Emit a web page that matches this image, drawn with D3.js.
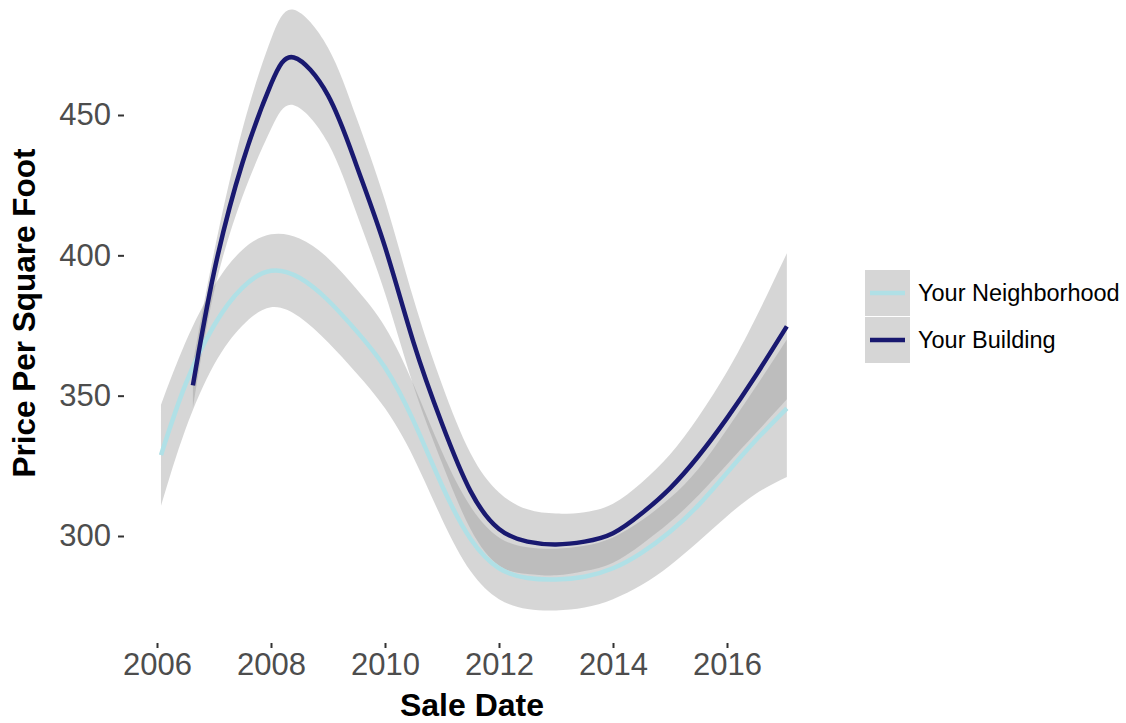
<!DOCTYPE html>
<html>
<head>
<meta charset="utf-8">
<script src="https://cdn.jsdelivr.net/npm/d3@7"></script>
<style>
  html, body { margin: 0; padding: 0; background: #fff; }
  svg { display: block; font-family: "Liberation Sans", Arial, sans-serif; }
</style>
</head>
<body>
<svg id="chart" width="1126" height="723"></svg>
<script>
// Smoothed price trend (loess-style fit with confidence band) per group
const xTicks = [2006, 2008, 2010, 2012, 2014, 2016];
const yTicks = [300, 350, 400, 450];

const seriesNames = ["Your Neighborhood", "Your Building"];
const seriesColors = ["#b0e0e6", "#191970"];

const nbYears = [2006.07, 2006.5, 2007, 2007.5, 2008, 2008.5, 2009, 2009.5, 2010, 2010.5, 2011, 2011.5, 2012, 2012.5, 2013, 2013.5, 2014, 2014.5, 2015, 2015.5, 2016, 2016.5, 2017.05];
const nbMean  = [328.8, 354, 375, 388.5, 394.5, 392, 384, 373, 360, 341, 318, 299, 288.5, 285, 284.5, 285.5, 288.5, 294, 301.5, 311, 322.5, 334, 345.5];
const nbLow   = [310.8, 338, 361, 375, 381.5, 378, 369, 358, 345.5, 328, 306, 287.5, 277.5, 274, 273.5, 274.5, 277.5, 282.5, 289.5, 298, 307, 315, 321];
const nbHigh  = [346.8, 369, 389, 402, 407.5, 406, 399, 388, 374.5, 354, 330, 310.5, 299.5, 296, 295.5, 296.5, 299.5, 305.5, 313.5, 324, 338, 353, 370];

const bdYears = [2006.63, 2007, 2007.5, 2008, 2008.4, 2009, 2009.5, 2010, 2010.5, 2011, 2011.5, 2012, 2012.5, 2013, 2013.5, 2014, 2014.5, 2015, 2015.5, 2016, 2016.5, 2017.05];
const bdMean  = [353.7, 394, 433, 461, 470.5, 457, 432, 403, 369, 340, 316, 302.5, 298, 297, 298, 301, 308, 317, 328.5, 342, 357, 374.7];
const bdLow   = [345.7, 387, 421, 445, 453.5, 440, 415, 386.5, 353.5, 326, 302.5, 289.5, 286.5, 286, 287.5, 290.5, 297, 305, 314.5, 325.5, 336.5, 348.7];
const bdHigh  = [361.7, 401, 445, 477, 487.5, 474, 449, 419.5, 384.5, 354, 329.5, 315.5, 309.5, 308, 308.5, 311.5, 319, 329, 342.5, 358.5, 377.5, 400.7];

const series = [
  { name: seriesNames[0], color: seriesColors[0],
    pts: nbYears.map((t, i) => ({ t, m: nbMean[i], lo: nbLow[i], hi: nbHigh[i] })) },
  { name: seriesNames[1], color: seriesColors[1],
    pts: bdYears.map((t, i) => ({ t, m: bdMean[i], lo: bdLow[i], hi: bdHigh[i] })) }
];

const svg = d3.select("#chart");

const x = d3.scaleLinear().domain([2006, 2016]).range([157, 727]);
const y = d3.scaleLinear().domain([300, 450]).range([536, 115]);

const curve = d3.curveNatural;

// confidence ribbons
const area = d3.area().curve(curve)
  .x(d => x(d.t)).y0(d => y(d.lo)).y1(d => y(d.hi));
svg.append("g").selectAll("path").data(series).join("path")
  .attr("d", s => area(s.pts))
  .attr("fill", "#999999")
  .attr("fill-opacity", 0.4);

// fitted lines
const line = d3.line().curve(curve).x(d => x(d.t)).y(d => y(d.m));
svg.append("g").selectAll("path").data(series).join("path")
  .attr("d", s => line(s.pts))
  .attr("fill", "none")
  .attr("stroke", s => s.color)
  .attr("stroke-width", 4.5);

// axes
const xAxis = svg.append("g")
  .attr("transform", "translate(0,643)")
  .call(d3.axisBottom(x).tickValues(xTicks).tickFormat(d3.format("d")).tickSize(5).tickPadding(5));
const yAxis = svg.append("g")
  .attr("transform", "translate(124,0)")
  .call(d3.axisLeft(y).tickValues(yTicks).tickSize(6).tickPadding(7));

[xAxis, yAxis].forEach(g => {
  g.select(".domain").remove();
  g.selectAll(".tick line").attr("stroke", "#333333").attr("stroke-width", 2);
  g.selectAll(".tick text")
    .attr("fill", "#4d4d4d")
    .style("font-size", "31px")
    .style("font-family", "'Liberation Sans', Arial, sans-serif");
});

// axis titles
svg.append("text")
  .attr("x", 472).attr("y", 716)
  .attr("text-anchor", "middle")
  .style("font-size", "32px").style("font-weight", "bold")
  .attr("fill", "#000")
  .text("Sale Date");
svg.append("text")
  .attr("transform", "translate(35,313) rotate(-90)")
  .attr("text-anchor", "middle")
  .style("font-size", "31.5px").style("font-weight", "bold")
  .attr("fill", "#000")
  .text("Price Per Square Foot");

// legend
const legend = svg.append("g").attr("transform", "translate(865,270)");
const keyH = 46, keyW = 45;
const items = legend.selectAll("g").data(series).join("g")
  .attr("transform", (d, i) => `translate(0,${i * (keyH + 1)})`);
items.append("rect")
  .attr("width", keyW).attr("height", keyH)
  .attr("fill", "#999999").attr("fill-opacity", 0.4);
items.append("line")
  .attr("x1", 5).attr("x2", keyW - 5)
  .attr("y1", keyH / 2).attr("y2", keyH / 2)
  .attr("stroke", d => d.color).attr("stroke-width", 4.5);
items.append("text")
  .attr("x", keyW + 8).attr("y", keyH / 2)
  .attr("dy", "0.35em")
  .style("font-size", "23.5px")
  .attr("fill", "#000")
  .text(d => d.name);
</script>
</body>
</html>
